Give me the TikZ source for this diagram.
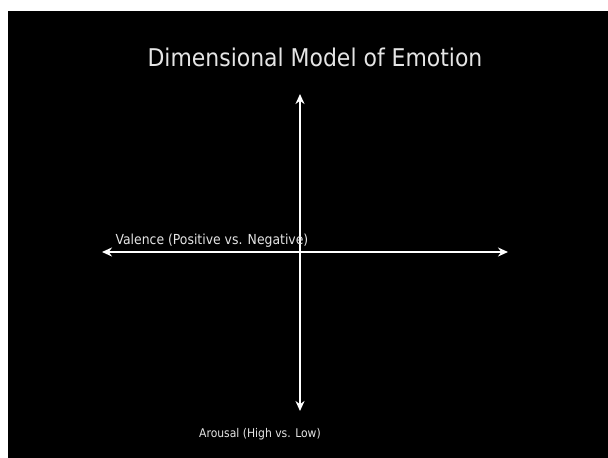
\documentclass[tikz,border=0pt]{standalone}
\usepackage{fontspec}
\setmainfont{DejaVu Sans Condensed}
\usepackage{tikz}
\usetikzlibrary{arrows.meta}

\begin{document}
\begin{tikzpicture}[x=1pt, y=-1pt,
    axis/.style={white, line width=1.8pt, {Stealth[length=10pt,width=9pt]}-{Stealth[length=10pt,width=9pt]}},
    label/.style={white!90!black, inner sep=0pt}]
    \useasboundingbox (0,0) rectangle (608,458);
    %fondo
    \fill[black] (8,11) rectangle (608,458);
    %titolo
    \node[label, font=\fontsize{24.4}{28}\selectfont] (title) at (315,57) {Dimensional Model of Emotion};
    %assi
    \coordinate (top) at (300,94);
    \coordinate (bottom) at (300,411);
    \coordinate (left) at (102,252);
    \coordinate (right) at (508,252);
    \draw[axis] (bottom) -- (top);
    \draw[axis] (left) -- (right);
    %etichette
    \node[label, font=\fontsize{13.8}{16}\selectfont] (valence) at (212,241) {Valence (Positive vs. Negative)};
    \node[label, font=\fontsize{12}{14}\selectfont] (arousal) at (260,434) {Arousal (High vs. Low)};
\end{tikzpicture}
\end{document}
